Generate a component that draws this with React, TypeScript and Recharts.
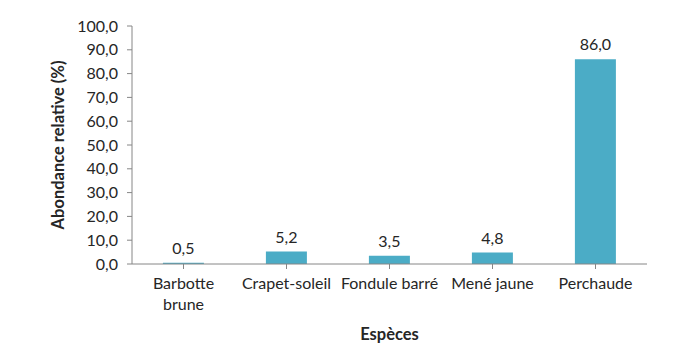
import React from "react";
import { BarChart, Bar, XAxis, YAxis, LabelList, Label } from "recharts";

const species = ["Barbotte brune", "Crapet-soleil", "Fondule barré", "Mené jaune", "Perchaude"];
const abundance = [0.5, 5.2, 3.5, 4.8, 86.0];
const yTicks = [0, 10, 20, 30, 40, 50, 60, 70, 80, 90, 100];

const data = species.map((s, i) => ({ name: s, value: abundance[i] }));

const FONT = "Lato, 'Liberation Sans', sans-serif";
const TEXT = "#262626";
const AXIS = "#868686";

const fmt = (v: number) => v.toFixed(1).replace(".", ",");

const XTick = (props: any) => {
  const { x, y, payload } = props;
  const label: string = payload.value;
  const lines = label.length > 13 ? label.split(" ") : [label];
  return (
    <text x={x} y={y} textAnchor="middle" fill={TEXT} fontSize={16} fontFamily={FONT}>
      {lines.map((l, i) => (
        <tspan key={i} x={x} dy={i === 0 ? 18 : 21}>
          {l}
        </tspan>
      ))}
    </text>
  );
};

export default function App() {
  return (
    <div style={{ position: "absolute", left: 0, top: 0, width: 690, height: 343, background: "#fff" }}>
      <BarChart
        width={690}
        height={343}
        data={data}
        margin={{ top: 26, right: 43, bottom: 0, left: 0 }}
        barCategoryGap="30%"
      >
        <XAxis
          dataKey="name"
          stroke={AXIS}
          tickLine={{ stroke: AXIS }}
          tickSize={5}
          tick={<XTick />}
          interval={0}
          height={79}
        >
          <Label
            value="Espèces"
            position="insideBottom"
            offset={0}
            dy={-3}
            style={{ fontWeight: 700, fontSize: 16.5, fill: TEXT, fontFamily: FONT }}
          />
        </XAxis>
        <YAxis
          width={132}
          domain={[0, 100]}
          ticks={yTicks}
          interval={0}
          tickFormatter={fmt}
          stroke={AXIS}
          tickSize={5}
          tickMargin={9}
          tick={{ fill: TEXT, fontSize: 16, fontFamily: FONT }}
        >
          <Label
            value="Abondance relative (%)"
            angle={-90}
            position="insideLeft"
            offset={0}
            dx={58}
            style={{ fontWeight: 700, fontSize: 16.5, fill: TEXT, fontFamily: FONT, textAnchor: "middle" }}
          />
        </YAxis>
        <Bar dataKey="value" fill="#4BACC6" isAnimationActive={false}>
          <LabelList
            dataKey="value"
            position="top"
            offset={9}
            formatter={(v: any) => fmt(Number(v))}
            style={{ fill: TEXT, fontSize: 16, fontFamily: FONT }}
          />
        </Bar>
      </BarChart>
    </div>
  );
}
